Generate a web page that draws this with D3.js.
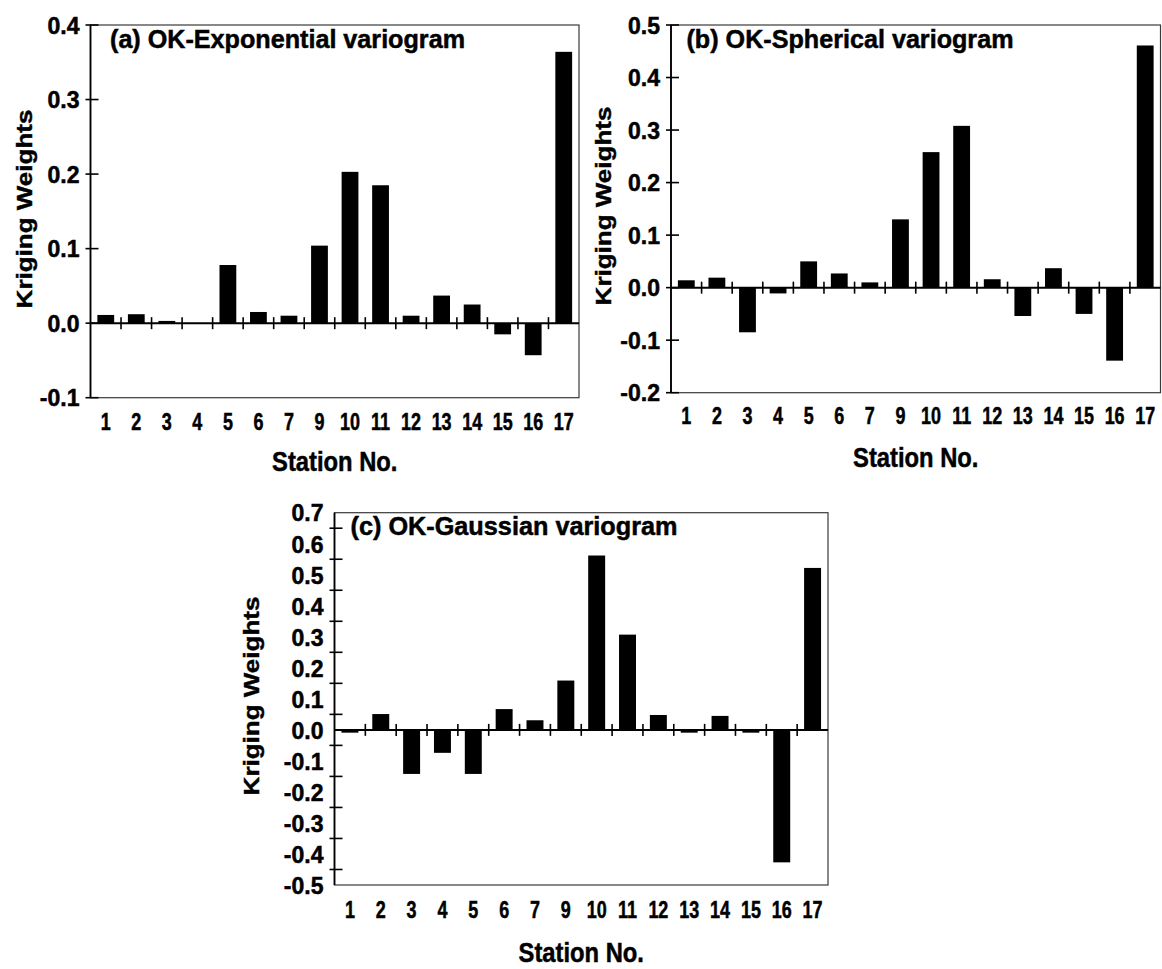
<!DOCTYPE html>
<html>
<head>
<meta charset="utf-8">
<script src="https://cdn.jsdelivr.net/npm/d3@7"></script>
<style>
body{margin:0;background:#fff;}
svg text{font-family:"Liberation Sans",Arial,sans-serif;font-weight:bold;fill:#000;stroke:#000;stroke-width:0.5px;}
</style>
</head>
<body>
<svg id="chart" width="1162" height="969"></svg>
<script>
//--------DATA--------
const stations = ['1','2','3','4','5','6','7','9','10','11','12','13','14','15','16','17'];

const weightsExponential = [0.011, 0.012, 0.003, 0.0, 0.078, 0.015, 0.010, 0.104, 0.203, 0.185, 0.010, 0.037, 0.025, -0.015, -0.043, 0.364];
const weightsSpherical   = [0.014, 0.019, -0.085, -0.011, 0.050, 0.027, 0.010, 0.130, 0.258, 0.308, 0.016, -0.054, 0.037, -0.050, -0.139, 0.461];
const weightsGaussian    = [-0.009, 0.051, -0.142, -0.074, -0.142, 0.067, 0.031, 0.159, 0.562, 0.307, 0.048, -0.009, 0.045, -0.009, -0.427, 0.522];

const yLabelsExponential = [0.4, 0.3, 0.2, 0.1, 0.0, -0.1];
const yLabelsSpherical   = [0.5, 0.4, 0.3, 0.2, 0.1, 0.0, -0.1, -0.2];
const yLabelsGaussian    = [0.7, 0.6, 0.5, 0.4, 0.3, 0.2, 0.1, 0.0, -0.1, -0.2, -0.3, -0.4, -0.5];
// the gaussian panel has its tick marks half way between the labels
const yMarksGaussian     = [0.65, 0.55, 0.45, 0.35, 0.25, 0.15, 0.05, -0.05, -0.15, -0.25, -0.35, -0.45];

const titles = ['(a) OK-Exponential variogram', '(b) OK-Spherical variogram', '(c) OK-Gaussian variogram'];

//squeeze text horizontally (the original figure is a bit narrow)
function squeeze(sel, k){
    sel.each(function(){
        let len = this.getComputedTextLength();
        d3.select(this)
            .attr('textLength', len * k)
            .attr('lengthAdjust', 'spacingAndGlyphs');
    });
}

class weightChart{
    setSelection(selection){ this.selection = selection; return this; }
    setData(data){ this.data = data; return this; }
    setFrame(frame){ this.frame = frame; return this; }
    setDomain(domain){ this.domain = domain; return this; }
    setLabels(labels, marks){ this.labels = labels; this.marks = marks || labels; return this; }
    setTitle(title, titleLen){ this.title = title; this.titleLen = titleLen; return this; }
    setText(text){ this.text = text; return this; }

    draw(){
        let f = this.frame;
        let g = this.selection;

        let scaleX = d3.scaleBand()
            .domain(stations)
            .range([f.x0, f.x1])
            .paddingInner(0.45)
            .paddingOuter(0.225);

        let scaleY = d3.scaleLinear()
            .domain(this.domain)
            .range([f.y1, f.y0]);

        //frame
        g.append('rect')
            .attr('x', f.x0)
            .attr('y', f.y0)
            .attr('width', f.x1 - f.x0)
            .attr('height', f.y1 - f.y0)
            .attr('fill', 'none')
            .attr('stroke', '#3a3a3a')
            .attr('stroke-width', 1.2);

        //bars
        g.selectAll('rect.bar')
            .data(this.data)
            .join('rect')
            .attr('class', 'bar')
            .attr('x', (d, i) => scaleX(stations[i]))
            .attr('y', d => Math.min(scaleY(d), scaleY(0)))
            .attr('width', scaleX.bandwidth())
            .attr('height', d => Math.abs(scaleY(d) - scaleY(0)))
            .attr('fill', '#000');

        //left axis line
        g.append('line')
            .attr('x1', f.x0).attr('x2', f.x0)
            .attr('y1', f.y0).attr('y2', f.y1)
            .attr('stroke', '#000')
            .attr('stroke-width', 1.8);

        //y tick marks (cross the axis)
        g.selectAll('line.ytick')
            .data(this.marks)
            .join('line')
            .attr('class', 'ytick')
            .attr('x1', f.x0 - 5).attr('x2', f.x0 + 8)
            .attr('y1', d => scaleY(d)).attr('y2', d => scaleY(d))
            .attr('stroke', '#000')
            .attr('stroke-width', 1.6);

        //y labels
        let axisY = d3.axisLeft(scaleY)
            .tickValues(this.labels)
            .tickSize(0)
            .tickPadding(11)
            .tickFormat(d => d.toFixed(1));

        let axisYG = g.append('g')
            .attr('transform', `translate(${f.x0}, 0)`)
            .call(axisY);
        axisYG.select('.domain').remove();
        axisYG.selectAll('text')
            .attr('font-size', 23)
            .attr('font-family', null)
            .attr('fill', null)
            .attr('dy', '0.36em');

        //zero line
        g.append('line')
            .attr('x1', f.x0).attr('x2', f.x1)
            .attr('y1', scaleY(0)).attr('y2', scaleY(0))
            .attr('stroke', '#000')
            .attr('stroke-width', 2);

        //x tick marks between the stations
        let bounds = stations.slice(1).map(s => scaleX(s) - scaleX.step() * scaleX.paddingInner() / 2);
        g.selectAll('line.xtick')
            .data(bounds)
            .join('line')
            .attr('class', 'xtick')
            .attr('x1', d => d).attr('x2', d => d)
            .attr('y1', scaleY(0) - 6).attr('y2', scaleY(0) + 6)
            .attr('stroke', '#000')
            .attr('stroke-width', 1.6);

        //station labels
        let axisX = d3.axisBottom(scaleX).tickSize(0).tickPadding(0);
        let axisXG = g.append('g')
            .attr('transform', `translate(0, ${this.text.xLabelY})`)
            .call(axisX);
        axisXG.select('.domain').remove();
        axisXG.selectAll('text')
            .attr('font-size', 23)
            .attr('font-family', null)
            .attr('fill', null)
            .attr('y', 0)
            .attr('dy', '0.36em')
            .call(squeeze, 0.78);

        this.drawLabels();
    }

    drawLabels(){
        let f = this.frame;
        let t = this.text;
        let g = this.selection;

        g.append('text')
            .attr('x', t.titleX)
            .attr('y', t.titleY)
            .attr('font-size', 26)
            .text(this.title)
            .attr('textLength', this.titleLen)
            .attr('lengthAdjust', 'spacingAndGlyphs');

        g.append('text')
            .attr('x', (f.x0 + f.x1) / 2)
            .attr('y', t.stationY)
            .attr('font-size', 27)
            .style('text-anchor', 'middle')
            .text('Station No.')
            .call(squeeze, 0.88);

        g.append('text')
            .attr('transform', `translate(${t.weightX}, ${t.weightY}) scale(0.82, 1) rotate(-90)`)
            .attr('font-size', 26)
            .attr('dy', '0.35em')
            .style('text-anchor', 'middle')
            .text('Kriging Weights');
    }
}

let svg = d3.select('#chart');

new weightChart()
    .setSelection(svg.append('g'))
    .setData(weightsExponential)
    .setFrame({x0: 90.5, x1: 579, y0: 25, y1: 397.7})
    .setDomain([-0.1, 0.4])
    .setLabels(yLabelsExponential)
    .setTitle(titles[0], 355)
    .setText({titleX: 110, titleY: 48, xLabelY: 422, stationY: 471, weightX: 25, weightY: 209})
    .draw();

new weightChart()
    .setSelection(svg.append('g'))
    .setData(weightsSpherical)
    .setFrame({x0: 671, x1: 1160.5, y0: 25, y1: 392.7})
    .setDomain([-0.2, 0.5])
    .setLabels(yLabelsSpherical)
    .setTitle(titles[1], 327)
    .setText({titleX: 686.5, titleY: 48, xLabelY: 416, stationY: 467, weightX: 604, weightY: 206})
    .draw();

new weightChart()
    .setSelection(svg.append('g'))
    .setData(weightsGaussian)
    .setFrame({x0: 334.5, x1: 828, y0: 512.7, y1: 885})
    .setDomain([-0.5, 0.7])
    .setLabels(yLabelsGaussian, yMarksGaussian)
    .setTitle(titles[2], 327)
    .setText({titleX: 350.5, titleY: 535, xLabelY: 910, stationY: 962, weightX: 252, weightY: 696})
    .draw();
</script>
</body>
</html>
